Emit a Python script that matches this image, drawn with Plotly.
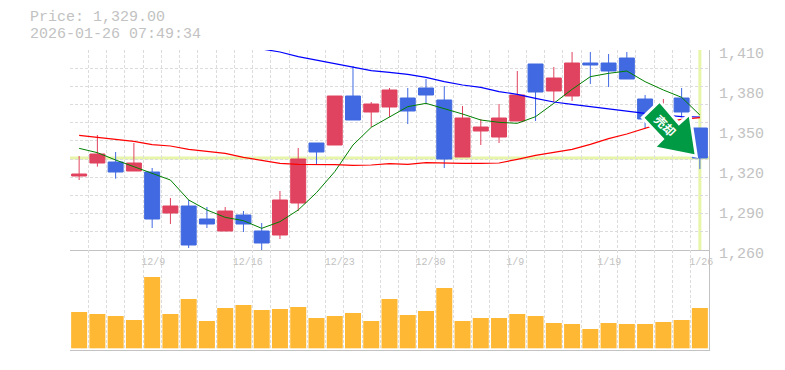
import plotly.graph_objects as go

# ---- data ----
idx = list(range(35))
opens = [1315.5,1325.25,1326,1319.25,1318.5,1287.75,1293,1283.25,1274.25,1286.25,1274.25,1271.25,1295.25,1340.25,
         1338.75,1375.5,1363.5,1367.25,1374,1381.5,1372.5,1329.75,1349.25,1344.75,1356.75,1399.5,1379.25,1375.5,
         1400.25,1400.25,1404,1373.25,1352,1374,1351.5]
closes = [1317,1332,1318.5,1325.25,1283.25,1293,1263.75,1279.5,1289.25,1279.5,1265.25,1297.5,1328.25,1333.5,
          1375.5,1357.5,1369.5,1380,1364.25,1376.25,1328.25,1359,1352.25,1359,1376.25,1378.5,1389,1400.25,
          1398.75,1394.25,1388.25,1358.25,1357,1363.5,1329]
highs = [1330.5,1346.25,1333.5,1340.25,1321.5,1299,1297.5,1292.25,1292.25,1289.25,1280.25,1304.25,1336.5,1340.25,
         1375.5,1398,1371,1381.5,1381.5,1388.25,1383,1368,1358.25,1369.5,1394.25,1399.5,1397.25,1408.5,
         1408.5,1407,1408.5,1376.25,1373.25,1381.5,1351.5]
lows = [1312.5,1322.5,1313.5,1319.25,1276.5,1279.5,1261.5,1276.5,1274.25,1273.5,1260,1268.25,1289.25,1324.5,
        1338.75,1357.5,1352.25,1359.75,1354.5,1370,1321.5,1329.75,1338.75,1340.25,1356.75,1356.75,1371,1371.75,
        1384.5,1382.25,1388.25,1351,1347,1359.5,1320.75]
volumes = [109,103,97,85,214,103,148,82,121,130,115,118,124,91,97,106,82,148,
           100,112,181,82,91,91,103,97,76,73,58,76,73,73,79,85,121]
ma_short = [1336.25,1333,1327.5,1322.5,1317.5,1312.5,1297.5,1290,1284.5,1282,1276.25,1281.25,1290,1303,
            1318.75,1338.75,1352,1359.75,1367.5,1370,1366.25,1362,1357.5,1355.75,1355,1360,1370,1380.5,
            1390,1392.5,1394.25,1386.25,1380,1374.5,1361.25]
ma_mid_x = list(range(9, 35))
ma_mid = [1413,1410.75,1408.5,1405,1402.5,1399.5,1397.5,1394.5,1393.25,1391.75,1389.5,1386.25,1383.75,1382,
          1378.75,1376.75,1373.75,1371,1369.25,1367.5,1365.75,1364.25,1362.5,1361.25,1360,1359.75]
ma_long = [1346,1344.5,1343,1341.5,1339,1338,1335.5,1334.25,1332.5,1329.5,1327,1325,1324.25,1324.25,
           1324,1323.5,1323.75,1324.75,1324.25,1325.5,1325,1325,1325,1325.25,1328,1331,1333.25,1335.5,
           1339.25,1343.5,1347,1351.25,1355.5,1358,1359.25]
last_price = 1329
price_ticks = [1260, 1290, 1320, 1350, 1380, 1410]
price_tick_text = ["1,260", "1,290", "1,320", "1,350", "1,380", "1,410"]
date_tick_pos = [4.06, 9.23, 14.27, 19.25, 23.89, 29.04, 34.08]
date_tick_text = ["12/9", "12/16", "12/23", "12/30", "1/9", "1/19", "1/26"]
title_lines = ["Price: 1,329.00", "2026-01-26 07:49:34"]
arrow_text = "<b>売却</b>"

# ---- style / layout ----
W, H = 785, 370
L, R, T, B = 70, 709.5, 50, 350
GREY = "#c2c2c2"
GRID = "#dcdcdc"
MONO = "Liberation Mono"
RED = "#E0435F"
BLUE = "#4169E1"
GUIDE = "#E6F5A8"

def px(x):
    return (x - L) / (R - L)
def py(y):
    return (B - y) / (B - T)
def poly(points):
    return "M " + " L ".join(f"{px(a):.5f},{py(b):.5f}" for a, b in points) + " Z"

arrow_pts = [(660, 103.3), (645, 117.7), (665, 139), (657.3, 146.7), (695, 154.3), (689.3, 116.7), (679.3, 125.7)]

fig = go.Figure()
fig.add_trace(go.Scatter(x=idx, y=ma_short, mode="lines", line=dict(color="#008000", width=1), cliponaxis=False, showlegend=False))
fig.add_trace(go.Scatter(x=ma_mid_x, y=ma_mid, mode="lines", line=dict(color="#0000FF", width=1.2), cliponaxis=False, showlegend=False))
fig.add_trace(go.Scatter(x=idx, y=ma_long, mode="lines", line=dict(color="#FF0000", width=1.2), cliponaxis=False, showlegend=False))
fig.add_trace(go.Candlestick(x=idx, open=opens, high=highs, low=lows, close=closes, whiskerwidth=0,
                             increasing=dict(line=dict(color=RED, width=1), fillcolor=RED),
                             decreasing=dict(line=dict(color=BLUE, width=1), fillcolor=BLUE),
                             showlegend=False))
fig.add_trace(go.Bar(x=idx, y=volumes, width=0.876, marker=dict(color="#FFB833", line=dict(width=0)),
                     xaxis="x2", yaxis="y2", showlegend=False))
fig.add_trace(go.Scatter(x=[34], y=[last_price], mode="lines", xaxis="x3", yaxis="y3", showlegend=False, hoverinfo="skip"))

x_common = dict(range=[-0.5, 34.5], zeroline=False, showline=True, linecolor=GREY, linewidth=1, ticks="",
                showticklabels=False, tickmode="linear", tick0=-0.5, dtick=1, showgrid=True, gridcolor=GRID,
                griddash="3px,2px", gridwidth=1)
shapes = [
    dict(type="line", xref="paper", x0=0, x1=1, yref="y", y0=last_price, y1=last_price,
         line=dict(color=GUIDE, width=3), layer="below"),
    dict(type="line", xref="x", x0=34, x1=34, yref="paper", y0=py(250), y1=1,
         line=dict(color=GUIDE, width=3), layer="below"),
    dict(type="path", xref="paper", yref="paper", path=poly(arrow_pts), fillcolor="white",
         line=dict(color="white", width=6), layer="above"),
    dict(type="path", xref="paper", yref="paper", path=poly(arrow_pts), fillcolor="#009944",
         line=dict(width=0), layer="above"),
]
annotations = [
    dict(xref="paper", yref="paper", x=px(27.5), y=py(18), text=title_lines[0], showarrow=False, xanchor="left",
         yanchor="middle", font=dict(family=MONO, size=15, color=GREY)),
    dict(xref="paper", yref="paper", x=px(27.5), y=py(34), text=title_lines[1], showarrow=False, xanchor="left",
         yanchor="middle", font=dict(family=MONO, size=15, color=GREY)),
    dict(xref="paper", yref="paper", x=px(666.7), y=py(125), text=arrow_text, showarrow=False, textangle=45,
         xanchor="center", yanchor="middle", font=dict(family="Noto Sans CJK JP", size=12, color="white")),
]
fig.update_layout(
    width=W, height=H, autosize=False, paper_bgcolor="white", plot_bgcolor="rgba(0,0,0,0)",
    margin=dict(l=L, r=W - R, t=T, b=H - B, pad=0), showlegend=False, boxgap=0.18, boxgroupgap=0, hovermode=False,
    xaxis=dict(x_common, anchor="y", rangeslider=dict(visible=False)),
    xaxis2=dict(x_common, anchor="y2"),
    xaxis3=dict(range=[-0.5, 34.5], anchor="free", position=py(250), showline=False, showgrid=False, zeroline=False,
                ticks="", tickmode="array", tickvals=date_tick_pos, ticktext=date_tick_text, ticklabelstandoff=4,
                tickfont=dict(family=MONO, size=10, color=GREY)),
    yaxis=dict(domain=[1 / 3, 1], range=[1260, 1410], side="right", anchor="x", showline=True, linecolor=GREY,
               linewidth=1, showticklabels=False, zeroline=False, ticks="", tickmode="linear", tick0=1260, dtick=150 / 11,
               showgrid=True, gridcolor=GRID, griddash="3px,2px", gridwidth=1),
    yaxis2=dict(domain=[0, 1 / 3], range=[-5, 295], side="right", anchor="x2", showline=True, linecolor=GREY,
                linewidth=1, showticklabels=False, showgrid=False, zeroline=False, ticks=""),
    yaxis3=dict(domain=[py(256), 1], range=[1257.75, 1412.25], side="right", anchor="x3",
                showline=False, showgrid=False, zeroline=False, ticks="", tickmode="array", tickvals=price_ticks,
                ticktext=price_tick_text, ticklabelstandoff=9, tickfont=dict(family=MONO, size=15, color=GREY)),
    shapes=shapes, annotations=annotations,
)
fig.write_html("out.html", post_script="document.body.style.margin='0';", config=dict(displayModeBar=False))
